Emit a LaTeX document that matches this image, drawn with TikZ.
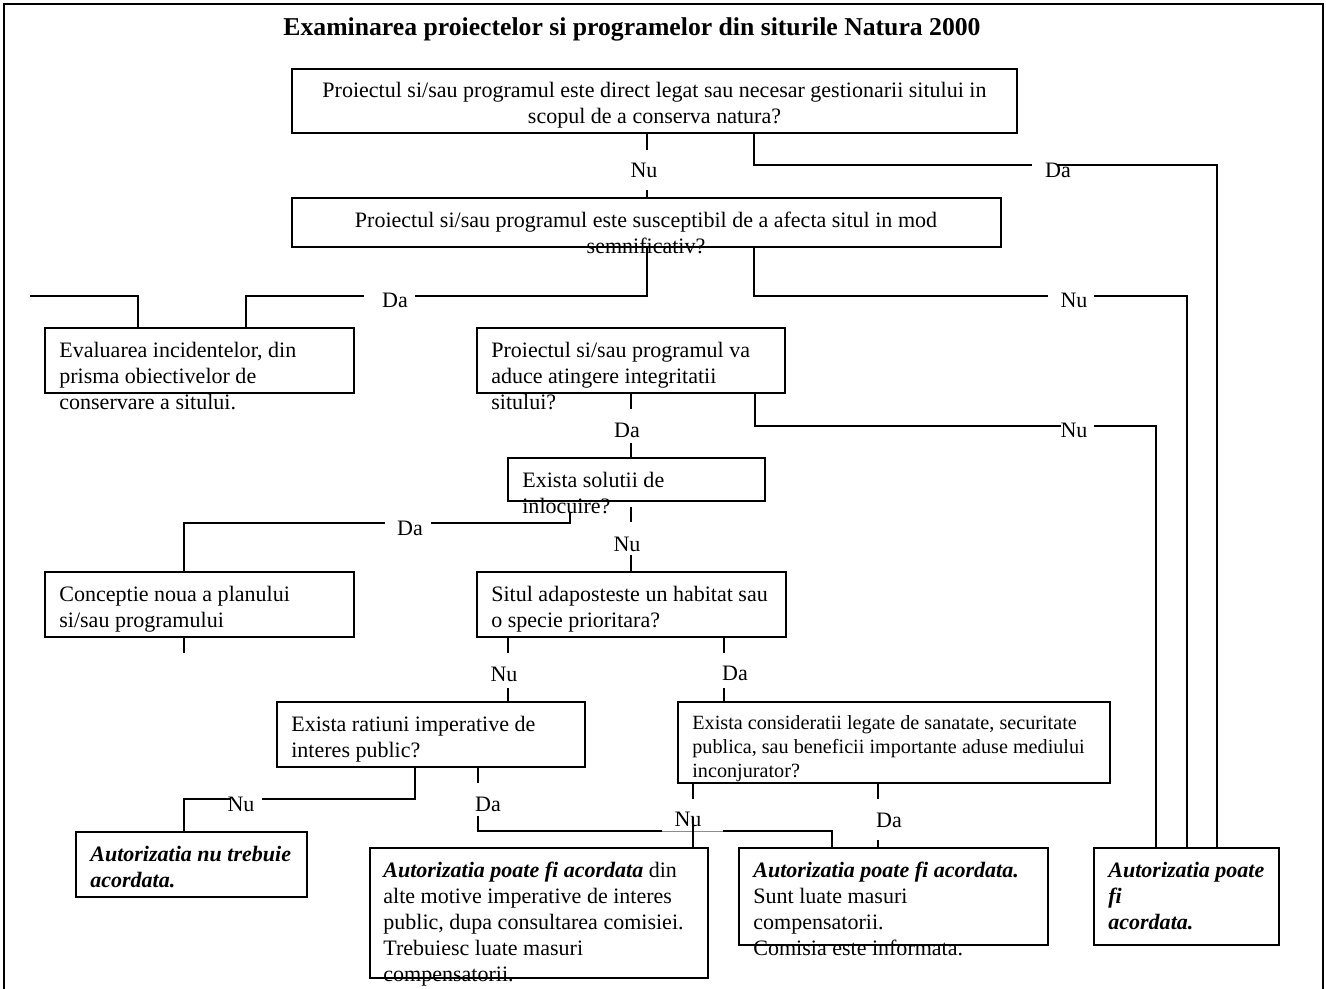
\documentclass[tikz,border=0pt]{standalone}
\usepackage{fontspec}
\setmainfont{Liberation Serif}
\usetikzlibrary{fit}
\begin{document}
\begin{tikzpicture}[x=0.545pt,y=-0.545pt,
  box/.style={draw, line width=0.7pt, inner sep=0pt},
  conn/.style={line width=0.65pt},
  faint/.style={line width=0.3pt, draw=black!45},
  frame/.style={line width=1.1pt},
  txt/.style={anchor=north west, inner sep=0pt, align=left, font=\fontsize{12}{14.2}\selectfont},
  stxt/.style={anchor=north west, inner sep=0pt, align=left, font=\fontsize{11}{13.1}\selectfont},
  ctxt/.style={anchor=north, inner sep=0pt, align=center, font=\fontsize{12}{14.2}\selectfont},
  bi/.style={font=\fontsize{12}{14.2}\selectfont\bfseries\itshape},
  lbl/.style={anchor=base, inner sep=0pt, font=\fontsize{12}{14.2}\selectfont},
  ttl/.style={anchor=base, inner sep=0pt, font=\fontsize{14}{16}\selectfont\bfseries}]
\useasboundingbox (0,0) rectangle (1326,989);
% outer frame (bottom edge lies below the page)
\draw[frame] (4,1005) -- (4,4) -- (1323,4) -- (1323,1005);
% title
\node[ttl] (title) at (632,35) {Examinarea proiectelor si programelor din siturile Natura 2000};
% boxes
\node[box, fit={(292,69) (1017,133)}] (b1) {};
\node[box, fit={(292,198) (1001,247)}] (b2) {};
\node[box, fit={(45,328) (354,393)}] (b3) {};
\node[box, fit={(477,328) (785,393)}] (b4) {};
\node[box, fit={(508,458) (765,501)}] (b5) {};
\node[box, fit={(477,572) (786,637)}] (b6) {};
\node[box, fit={(45,572) (354,637)}] (b7) {};
\node[box, fit={(277,702) (585,767)}] (b8) {};
\node[box, fit={(678,702) (1110,783)}] (b9) {};
\node[box, fit={(76,832) (307,897)}] (b10) {};
\node[box, fit={(370,848) (708,978)}] (b11) {};
\node[box, fit={(739,848) (1048,945)}] (b12) {};
\node[box, fit={(1094,848) (1279,945)}] (b13) {};
% box texts
\node[ctxt] (t1) at (654.5,78.8) {\strut Proiectul si/sau programul este direct legat sau necesar gestionarii sitului in\\scopul de a conserva natura?};
\node[ctxt] (t2) at (646,208.8) {\strut Proiectul si/sau programul este susceptibil de a afecta situl in mod\\semnificativ?};
\node[txt] (t3) at (59,338.8) {\strut Evaluarea incidentelor, din\\prisma obiectivelor de\\conservare a sitului.};
\node[txt] (t4) at (491,338.8) {\strut Proiectul si/sau programul va\\aduce atingere integritatii\\sitului?};
\node[txt] (t5) at (522,468.8) {\strut Exista solutii de\\inlocuire?};
\node[txt] (t6) at (491,582.8) {\strut Situl adaposteste un habitat sau\\o specie prioritara?};
\node[txt] (t7) at (59,582.8) {\strut Conceptie noua a planului\\si/sau programului};
\node[txt] (t8) at (291,712.8) {\strut Exista ratiuni imperative de\\interes public?};
\node[stxt] (t9) at (692,712.2) {\strut Exista consideratii legate de sanatate, securitate\\publica, sau beneficii importante aduse mediului\\inconjurator?};
\node[txt,bi] (t10) at (90,842.8) {\strut Autorizatia nu trebuie\\acordata.};
\node[txt] (t11) at (383,858.8) {\strut\textbf{\textit{Autorizatia poate fi acordata}} din\\alte motive imperative de interes\\public, dupa consultarea comisiei.\\Trebuiesc luate masuri\\compensatorii.};
\node[txt] (t12) at (753,858.8) {\strut\textbf{\textit{Autorizatia poate fi acordata.}}\\Sunt luate masuri\\compensatorii.\\Comisia este informata.};
\node[txt,bi] (t13) at (1108,858.8) {\strut Autorizatia poate\\fi\\acordata.};
% labels
\node[lbl] (nu1) at (644,177) {Nu};
\node[lbl] (da1) at (1058,177) {Da};
\node[lbl] (da2) at (395,307) {Da};
\node[lbl] (nu2) at (1074,307) {Nu};
\node[lbl] (nu3) at (1074,437) {Nu};
\node[lbl] (da3) at (627,437) {Da};
\node[lbl] (da4) at (410,535) {Da};
\node[lbl] (nu4) at (627,551) {Nu};
\node[lbl] (nu5) at (504,681) {Nu};
\node[lbl] (da5) at (735,680) {Da};
\node[lbl] (nu6) at (241,811) {Nu};
\node[lbl] (da6) at (488,811) {Da};
\node[lbl] (nu7) at (688,826) {Nu};
\node[lbl] (da7) at (889,827) {Da};
% gap end coordinates
\coordinate (g1a) at (647,150);  \coordinate (g1b) at (647,190);
\coordinate (k2) at (754,165);   \coordinate (g2a) at (1032,165); \coordinate (g2b) at (1058,165); \coordinate (k2b) at (1217,165);
\coordinate (k3) at (647,296);   \coordinate (g3a) at (415,296);  \coordinate (g3b) at (364,296);  \coordinate (k3b) at (246,296);
\coordinate (s3) at (30,296);    \coordinate (k3c) at (138,296);
\coordinate (k4) at (754,296);   \coordinate (g4a) at (1048,296); \coordinate (g4b) at (1094,296); \coordinate (k4b) at (1187,296);
\coordinate (k5) at (755,426);   \coordinate (g5a) at (1061,426); \coordinate (g5b) at (1094,426); \coordinate (k5b) at (1156,426);
\coordinate (g6a) at (631,409);  \coordinate (g6b) at (631,443);
\coordinate (s7) at (631,507);   \coordinate (g7a) at (631,522);  \coordinate (g7b) at (631,555);
\coordinate (s8) at (570,513);   \coordinate (k8) at (570,523);   \coordinate (g8a) at (431,523);  \coordinate (g8b) at (385,523); \coordinate (k8b) at (184,523);
\coordinate (e9) at (184,653);
\coordinate (g10a) at (508,653); \coordinate (g10b) at (508,688);
\coordinate (g11a) at (724,653); \coordinate (g11b) at (724,688);
\coordinate (k12) at (415,799);  \coordinate (g12a) at (262,799); \coordinate (g12b) at (231,799); \coordinate (k12b) at (184,799);
\coordinate (g13a) at (478,783); \coordinate (g13b) at (478,816); \coordinate (k13) at (478,831); \coordinate (f13a) at (662,831); \coordinate (f13b) at (723,831); \coordinate (k13b) at (832,831);
\coordinate (g14a) at (693,799); \coordinate (g14b) at (693,817);
\coordinate (g15a) at (878,799); \coordinate (g15b) at (878,840);
% connectors
\draw[conn] (b1.south -| g1a) -- (g1a);  \draw[conn] (g1b) -- (b2.north -| g1b);
\draw[conn] (b1.south -| k2) -- (k2) -- (g2a);  \draw[conn] (g2b) -- (k2b) -- (b13.north -| k2b);
\draw[conn] (b2.south -| k3) -- (k3) -- (g3a);  \draw[conn] (g3b) -- (k3b) -- (b3.north -| k3b);
\draw[conn] (s3) -- (k3c) -- (b3.north -| k3c);
\draw[conn] (b2.south -| k4) -- (k4) -- (g4a);  \draw[conn] (g4b) -- (k4b) -- (b13.north -| k4b);
\draw[conn] (b4.south -| k5) -- (k5) -- (g5a);  \draw[conn] (g5b) -- (k5b) -- (b13.north -| k5b);
\draw[conn] (b4.south -| g6a) -- (g6a);  \draw[conn] (g6b) -- (b5.north -| g6b);
\draw[conn] (s7) -- (g7a);  \draw[conn] (g7b) -- (b6.north -| g7b);
\draw[conn] (s8) -- (k8) -- (g8a);  \draw[conn] (g8b) -- (k8b) -- (b7.north -| k8b);
\draw[conn] (b7.south -| e9) -- (e9);
\draw[conn] (b6.south -| g10a) -- (g10a);  \draw[conn] (g10b) -- (b8.north -| g10b);
\draw[conn] (b6.south -| g11a) -- (g11a);  \draw[conn] (g11b) -- (b9.north -| g11b);
\draw[conn] (b8.south -| k12) -- (k12) -- (g12a);  \draw[conn] (g12b) -- (k12b) -- (b10.north -| k12b);
\draw[conn] (b8.south -| g13a) -- (g13a);  \draw[conn] (g13b) -- (k13) -- (f13a);  \draw[faint] (f13a) -- (f13b);  \draw[conn] (f13b) -- (k13b) -- (b12.north -| k13b);
\draw[conn] (b9.south -| g14a) -- (g14a);  \draw[conn] (g14b) -- (b11.north -| g14b);
\draw[conn] (b9.south -| g15a) -- (g15a);  \draw[conn] (g15b) -- (b12.north -| g15b);
\end{tikzpicture}
\end{document}
